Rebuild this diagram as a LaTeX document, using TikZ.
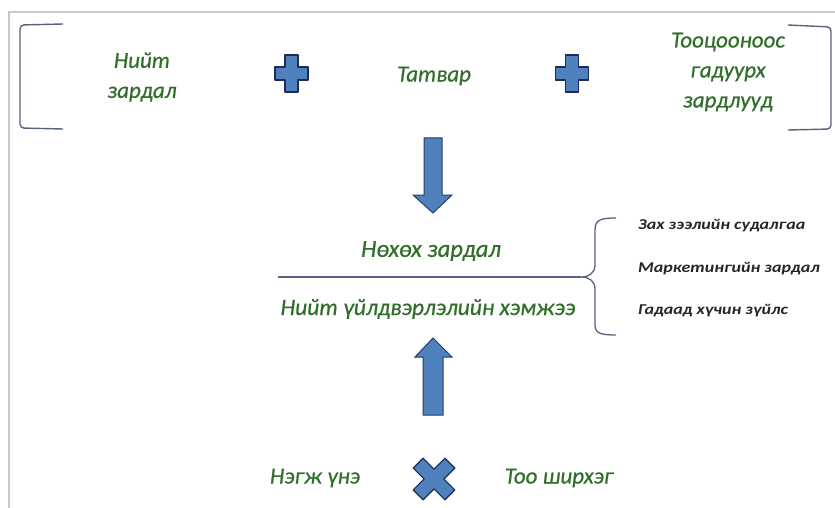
\documentclass[tikz,border=0pt]{standalone}
\usepackage{fontspec}
\setmainfont{Carlito}
\newfontfamily\gfont[FakeBold=0.6]{Carlito}
\newfontfamily\rfont[FakeStretch=1.2]{Carlito}
\definecolor{txtgreen}{RGB}{48,110,42}
\definecolor{shapeblue}{RGB}{79,129,189}
\definecolor{shapeedge}{RGB}{28,44,84}
\definecolor{arrowedge}{RGB}{40,60,100}
\definecolor{brk}{RGB}{88,98,128}
\definecolor{framegrey}{RGB}{200,200,200}
\tikzset{
  gtxt/.style={text=txtgreen, font=\gfont\itshape\fontsize{23}{30}\selectfont, align=center, inner sep=0pt},
  bigtxt/.style={text=txtgreen, font=\gfont\itshape\fontsize{24.5}{28}\selectfont, inner sep=0pt},
  smalltxt/.style={text=black!85, font=\rfont\bfseries\itshape\fontsize{15}{18}\selectfont, inner sep=0pt, anchor=west},
  brackline/.style={draw=brk, line width=1.4pt, rounded corners=4pt},
  blockshape/.style={fill=shapeblue, draw=shapeedge, line width=1.2pt, line join=round},
  blockarrow/.style={fill=shapeblue, draw=arrowedge, line width=1pt, line join=miter},
  pics/plussign/.style={code={
    \path[blockshape,line width=1.8pt] (-6.5,-18.5) -- (6.5,-18.5) -- (6.5,-6.5) -- (16.5,-6.5) -- (16.5,6.5) -- (6.5,6.5) -- (6.5,18.5) -- (-6.5,18.5) -- (-6.5,6.5) -- (-16.5,6.5) -- (-16.5,-6.5) -- (-6.5,-6.5) -- cycle;
  }},
  pics/crosssign/.style={code={
    \path[blockshape, rotate=45] (-7,-22.5) -- (7,-22.5) -- (7,-7) -- (22.5,-7) -- (22.5,7) -- (7,7) -- (7,22.5) -- (-7,22.5) -- (-7,7) -- (-22.5,7) -- (-22.5,-7) -- (-7,-7) -- cycle;
  }}
}
\begin{document}
\begin{tikzpicture}[x=1pt,y=-1pt]
\useasboundingbox (0,0) rectangle (835,508);
% frame
\draw[framegrey, line width=1.5pt] (835,12) -- (9,12) -- (9,508);
% brackets
\draw[brackline] (63,24) -- (20,25) -- (20,128) -- (63,129);
\draw[brackline] (788,25) -- (831,27) -- (831,129) -- (788,130);
% top row
\node[gtxt] (nz) at (142,77) {Нийт\\зардал};
\pic at (291.5,73.5) {plussign};
\node[gtxt] (tv) at (434,76) {Татвар};
\pic at (572,73.5) {plussign};
\node[gtxt] (tg) at (728,72) {Тооцооноос\\гадуурх\\зардлууд};
% down arrow
\path[blockarrow] (424,138) -- (442,138) -- (442,195) -- (452,195) -- (433,213) -- (413,195) -- (424,195) -- cycle;
% fraction
\node[bigtxt] (num) at (431,251) {Нөхөх зардал};
\node[bigtxt, font=\gfont\itshape\fontsize{23.5}{28}\selectfont] (den) at (428,309) {Нийт үйлдвэрлэлийн хэмжээ};
\coordinate (lineL) at (278,277);
\coordinate (tip) at (581,277);
\draw[brk, line width=1.3pt] (lineL) -- (tip);
% brace
\draw[brk, line width=1.3pt] (616,218) .. controls (600,218) and (595,220) .. (595,230) -- (595,265) .. controls (595,273) and (589,277) .. (tip) .. controls (589,277) and (595,281) .. (595,289) -- (595,325) .. controls (595,333) and (600,335) .. (616,335);
\node[smalltxt] (s1) at (638,226) {Зах зээлийн судалгаа};
\node[smalltxt] (s2) at (638,269) {Маркетингийн зардал};
\node[smalltxt] (s3) at (638,311) {Гадаад хүчин зүйлс};
% up arrow
\path[blockarrow] (423,415) -- (443,415) -- (443,357) -- (452,357) -- (433,338) -- (415,357) -- (423,357) -- cycle;
% bottom row
\node[gtxt] (ne) at (315,478) {Нэгж үнэ};
\pic at (434,479) {crosssign};
\node[gtxt] (ts) at (559,478) {Тоо ширхэг};
\end{tikzpicture}
\end{document}
